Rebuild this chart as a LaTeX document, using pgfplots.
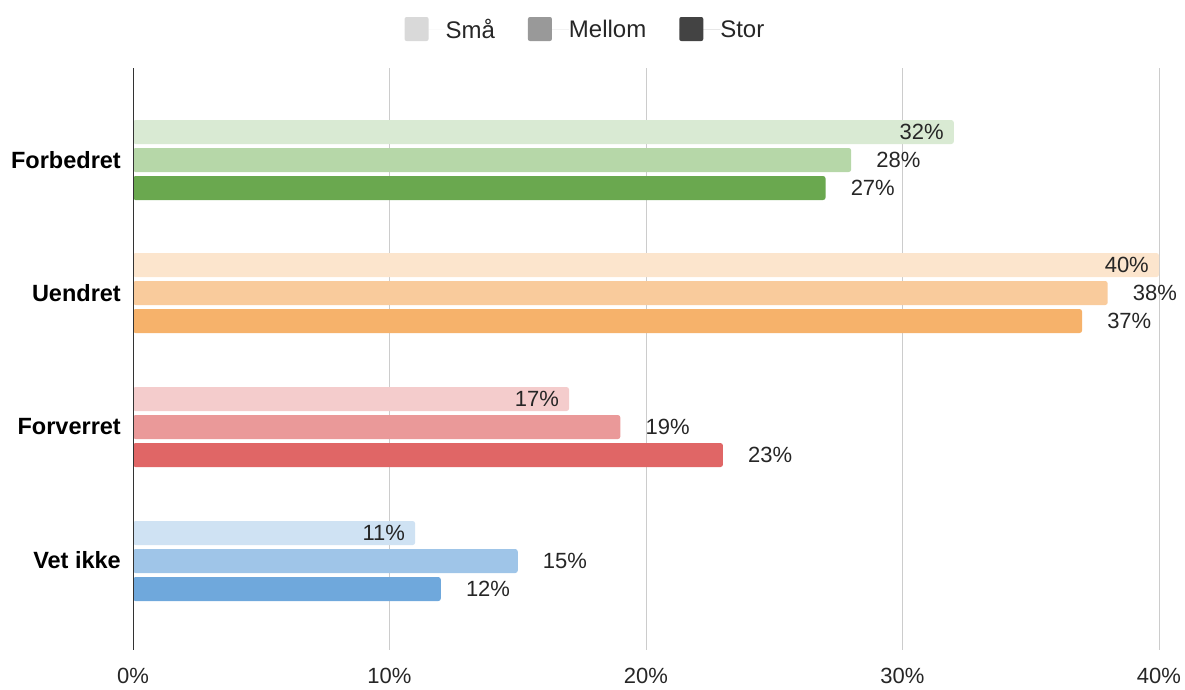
\documentclass[border=0pt]{standalone}
\usepackage{fontspec}
\setmainfont{Liberation Sans}
\usepackage{pgfplots}
\pgfplotsset{compat=1.18}
\definecolor{gA}{HTML}{D9EAD3}\definecolor{gB}{HTML}{B6D7A8}\definecolor{gC}{HTML}{6AA84F}
\definecolor{oA}{HTML}{FCE5CD}\definecolor{oB}{HTML}{F9CB9C}\definecolor{oC}{HTML}{F6B26B}
\definecolor{rA}{HTML}{F4CCCC}\definecolor{rB}{HTML}{EA9999}\definecolor{rC}{HTML}{E06666}
\definecolor{bA}{HTML}{CFE2F3}\definecolor{bB}{HTML}{9FC5E8}\definecolor{bC}{HTML}{6FA8DC}
\definecolor{lS}{HTML}{D9D9D9}\definecolor{lM}{HTML}{999999}\definecolor{lL}{HTML}{434343}
\begin{document}
\begin{tikzpicture}
\begin{axis}[
 name=ax,
 scale only axis, width=1026pt, height=582pt,
 xmin=0, xmax=40, ymin=68, ymax=650, y dir=reverse,
 xtick={0,10,20,30,40}, xticklabels={0\%,10\%,20\%,30\%,40\%},
 ytick={160,293.3,426.7,560}, yticklabels={Forbedret,Uendret,Forverret,Vet ikke},
 xmajorgrids, major grid style={draw=black!20, line width=1pt},
 axis line style={draw=none},
 major tick length=0pt, tick style={draw=none},
 xticklabel style={font=\fontsize{22}{26}\selectfont, text=black!85, inner sep=0pt, anchor=north, yshift=-18pt},
 yticklabel style={font=\fontsize{23.5}{27}\selectfont\bfseries, inner sep=0pt, anchor=east, xshift=-12pt},
 xbar, bar width=24pt, bar shift=0pt,
 point meta=x,
 nodes near coords={\pgfmathprintnumber[assume math mode=true]{\pgfplotspointmeta}\%},
 nodes near coords style={font=\fontsize{22}{26}\selectfont, text=black!85, inner sep=0pt, anchor=west, xshift=25pt},
 every axis plot/.append style={draw=none, rounded corners=2.5pt},
 legend image code/.code={\path[#1] (0pt,-11.4pt) rectangle (24pt,12.6pt); \path (0pt,0pt) -- (41pt,0pt);},
 legend columns=3,
 legend style={at={(0.44,1.067)}, anchor=center, draw=none, fill=none, inner sep=0pt,
   font=\fontsize{24}{28}\selectfont, text=black!85,
   nodes={inner sep=0pt},
   /tikz/every even column/.append style={column sep=33pt}},
]
\addlegendimage{fill=lS, draw=none, rounded corners=2pt}\addlegendentry{Små}
\addlegendimage{fill=lM, draw=none, rounded corners=2pt}\addlegendentry{Mellom}
\addlegendimage{fill=lL, draw=none, rounded corners=2pt}\addlegendentry{Stor}
% Forbedret
\addplot[fill=gA, forget plot, nodes near coords style={anchor=east, xshift=-35pt}] coordinates {(32,132)};
\addplot[fill=gB, forget plot] coordinates {(28,160)};
\addplot[fill=gC, forget plot] coordinates {(27,188)};
% Uendret
\addplot[fill=oA, forget plot, nodes near coords style={anchor=east, xshift=-35pt}] coordinates {(40,265)};
\addplot[fill=oB, forget plot] coordinates {(38,293)};
\addplot[fill=oC, forget plot] coordinates {(37,321)};
% Forverret
\addplot[fill=rA, forget plot, nodes near coords style={anchor=east, xshift=-35pt}] coordinates {(17,399)};
\addplot[fill=rB, forget plot] coordinates {(19,427)};
\addplot[fill=rC, forget plot] coordinates {(23,455)};
% Vet ikke
\addplot[fill=bA, forget plot, nodes near coords style={anchor=east, xshift=-35pt}] coordinates {(11,533)};
\addplot[fill=bB, forget plot] coordinates {(15,561)};
\addplot[fill=bC, forget plot] coordinates {(12,589)};
\draw[color=black!80, line width=1.5pt] (axis cs:0,68) -- (axis cs:0,650);
\end{axis}
\pgfresetboundingbox
\path ([xshift=-133pt,yshift=-39pt]ax.south west) rectangle ([xshift=26pt,yshift=68pt]ax.north east);
\end{tikzpicture}
\end{document}
